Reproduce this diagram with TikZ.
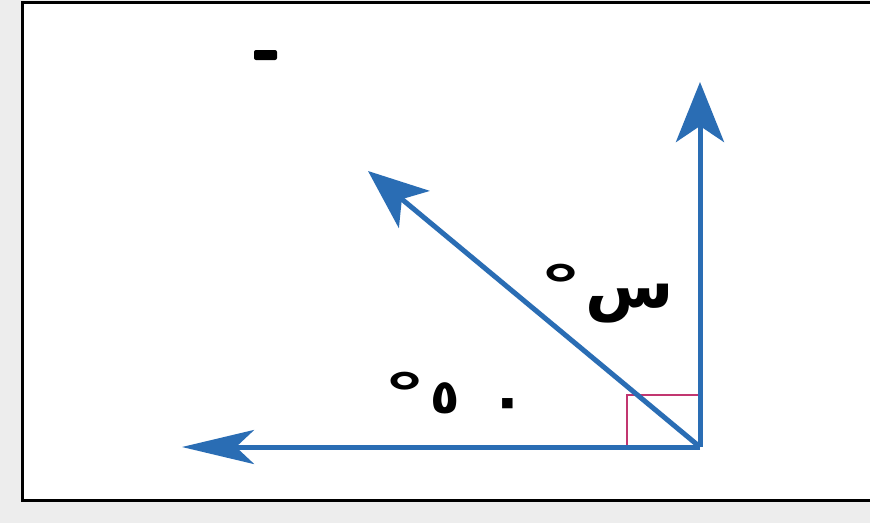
\documentclass[tikz,border=0pt]{standalone}
\usepackage{fontspec}
\usepackage{graphicx}
\usetikzlibrary{arrows.meta}
\newfontfamily\arabicfont[Script=Arabic]{DejaVu Sans Bold}
\definecolor{vecblue}{HTML}{2A6DB4}
\definecolor{rightmark}{HTML}{C23670}
\definecolor{outer}{HTML}{EDEDED}
\newcommand{\degring}{\scalebox{1.8}[1.15]{\fontsize{48}{48}\selectfont °}}
\tikzset{
  vec/.style={draw=vecblue, line width=5pt, -{Stealth[length=60pt,width=48pt,inset=16pt]}},
  vecflat/.style={draw=vecblue, line width=5pt, -{Stealth[length=72pt,width=34pt,inset=18pt]}},
  lbl/.style={font=\arabicfont\fontsize{48}{50}\selectfont, text=black, inner sep=0pt},
}
\begin{document}
\begin{tikzpicture}[x=1pt,y=-1pt]
\useasboundingbox (0,0) rectangle (870,523);
\fill[outer] (0,0) rectangle (870,523);
\draw[line width=3pt, fill=white] (22,2) rectangle (890,500);
% marker at top left
\fill[black, rounded corners=2pt] (254,50) rectangle (277,60);
\coordinate (O) at (700,447);
\coordinate (U) at (700,82);
\coordinate (L) at (182,447);
\coordinate (D) at (368,171);
% right angle mark
\draw[rightmark, line width=2pt] (627,447) -- (627,395) -- (700,395);
\draw[vec] (O) -- (U);
\draw[vecflat] (O) -- (L);
\draw[vec] (O) -- (D);
\node[lbl, font=\arabicfont\fontsize{64}{66}\selectfont] (x) at (607,294) {\raisebox{2pt}{\degring}\hspace{3pt}س};
\node[lbl] (f) at (455,396) {\raisebox{0pt}{\degring}\hspace{4pt}٥\hspace{30pt}\raisebox{-7pt}{\fontsize{60}{60}\selectfont ٠}};
\end{tikzpicture}
\end{document}
